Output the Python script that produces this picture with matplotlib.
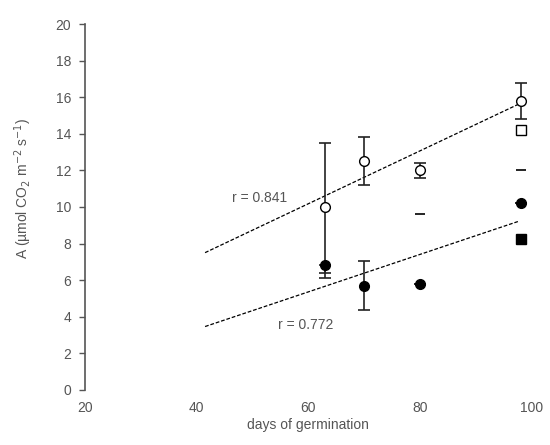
import matplotlib
matplotlib.use("Agg")
import matplotlib.pyplot as plt
import numpy as np

# Data
open_circle_x = [63, 70, 80, 98]
open_circle_y = [10.0, 12.5, 12.0, 15.8]
open_circle_err_lo = [3.6, 1.3, 0.4, 1.0]
open_circle_err_hi = [3.5, 1.3, 0.4, 1.0]

filled_circle_x = [63, 70, 80, 98]
filled_circle_y = [6.85, 5.7, 5.8, 10.2]
filled_circle_err_lo = [0.75, 1.35, 0.0, 0.0]
filled_circle_err_hi = [0.0, 1.35, 0.0, 0.0]

open_square_x = [98]
open_square_y = [14.2]

filled_square_x = [98]
filled_square_y = [8.25]

dash_x = [80, 98]
dash_y = [9.6, 12.0]

upper_fit_x = [41.5, 97.5]
upper_fit_y = [7.5, 15.6]
lower_fit_x = [41.5, 97.5]
lower_fit_y = [3.46, 9.2]

r_upper = "r = 0.841"
r_lower = "r = 0.772"

x_ticks = [20, 40, 60, 80, 100]
y_ticks = [0, 2, 4, 6, 8, 10, 12, 14, 16, 18, 20]

plt.rcParams['font.family'] = ['Liberation Sans', 'DejaVu Sans']
txt = '#555555'

fig = plt.figure(figsize=(5.5, 4.45), dpi=100)
ax = fig.add_axes([0.1545, 0.124, 0.8125, 0.822])

ax.plot(upper_fit_x, upper_fit_y, color='black', lw=0.9, ls=(0, (3, 1.5)))
ax.plot(lower_fit_x, lower_fit_y, color='black', lw=0.9, ls=(0, (3, 1.5)))

ax.errorbar(open_circle_x, open_circle_y,
            yerr=[open_circle_err_lo, open_circle_err_hi], fmt='o',
            mfc='white', mec='black', ecolor='#222222', elinewidth=1.2,
            capsize=4, capthick=1.2, ms=7, zorder=3)
ax.errorbar(filled_circle_x, filled_circle_y,
            yerr=[filled_circle_err_lo, filled_circle_err_hi], fmt='o',
            mfc='black', mec='black', ecolor='#222222', elinewidth=1.2,
            capsize=4, capthick=1.2, ms=7, zorder=3)
ax.plot(open_square_x, open_square_y, 's', mfc='white', mec='black', ms=7, zorder=3)
ax.plot(filled_square_x, filled_square_y, 's', mfc='black', mec='black', ms=7, zorder=3)
ax.plot(dash_x, dash_y, '_', color='black', ms=7, mew=1.2, zorder=3)

ax.text(46.3, 10.5, r_upper, fontsize=10, color=txt, va='center', ha='left')
ax.text(54.5, 3.55, r_lower, fontsize=10, color=txt, va='center', ha='left')

ax.set_xlim(20, 100)
ax.set_ylim(0, 20)
ax.set_xticks(x_ticks)
ax.set_yticks(y_ticks)
ax.tick_params(axis='x', length=0, labelsize=10, labelcolor=txt, pad=8)
ax.tick_params(axis='y', length=4, width=1, color='#555555', labelsize=10,
               labelcolor=txt, pad=6)
for s in ['top', 'right', 'bottom']:
    ax.spines[s].set_visible(False)
ax.spines['left'].set_color('#555555')
ax.spines['left'].set_linewidth(1.2)

ax.set_xlabel('days of germination', fontsize=10, color=txt, labelpad=2)
ax.set_ylabel('A (µmol CO$_2$ m$^{-2}$ s$^{-1}$)', fontsize=10, color=txt)
ax.yaxis.set_label_coords(-0.115, 0.55)

fig.savefig('out.png', dpi=100)
